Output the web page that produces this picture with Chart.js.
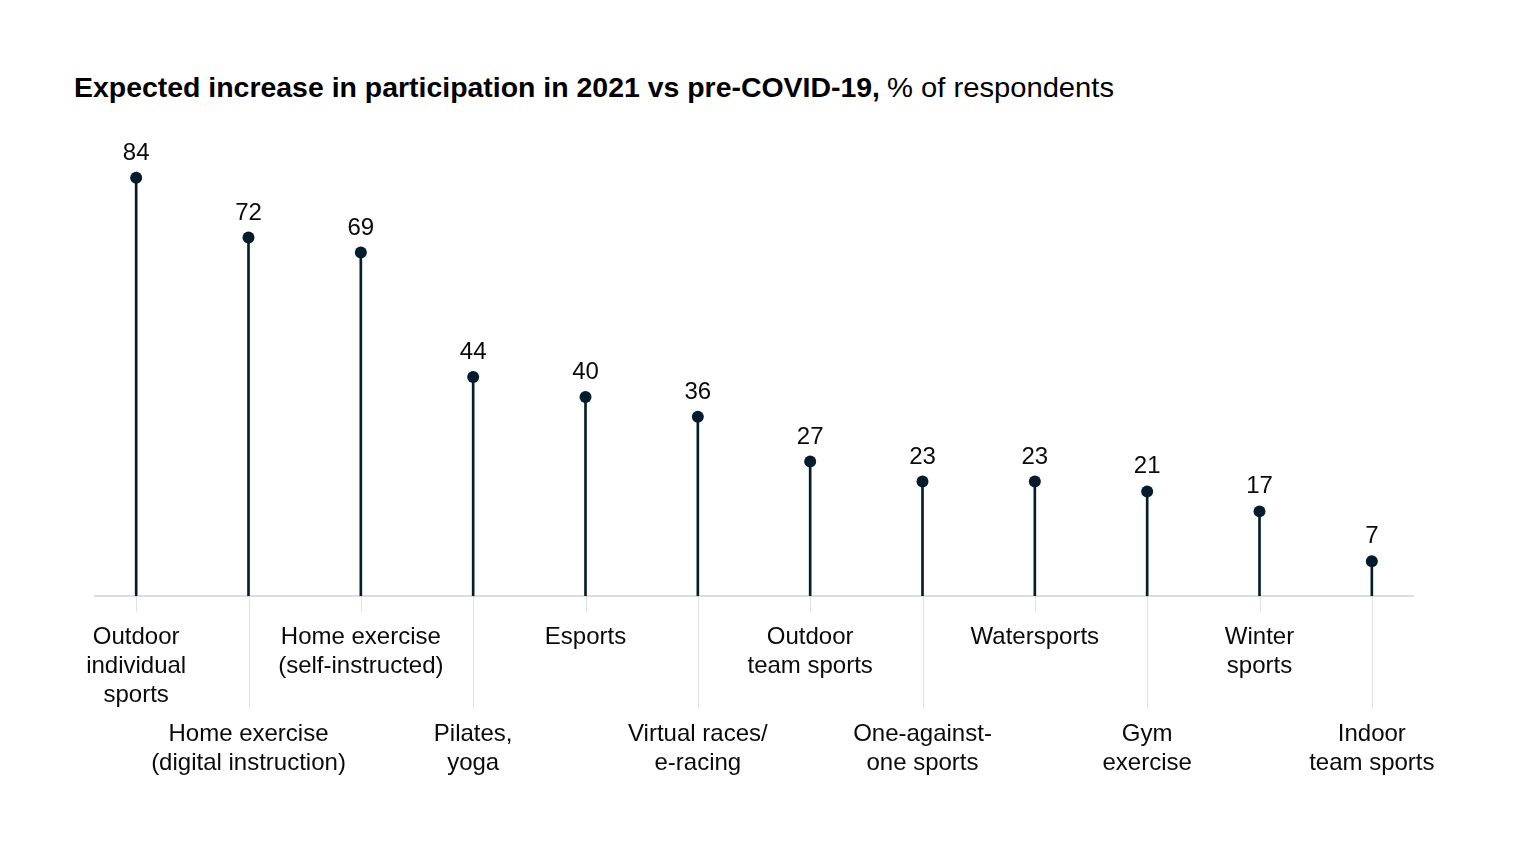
<!DOCTYPE html>
<html><head><meta charset="utf-8">
<script src="https://cdn.jsdelivr.net/npm/chart.js@4/dist/chart.umd.min.js"></script>
<style>
html,body{margin:0;padding:0;background:#fff;}
#wrap{position:relative;width:1536px;height:864px;overflow:hidden}
.t{position:absolute;top:74px;font-family:"Liberation Sans",Arial,sans-serif;font-size:28px;line-height:28px;color:#000;white-space:nowrap;transform-origin:0 0;display:inline-block}
#tb{left:74px;font-weight:700}
#tr{left:887px;font-weight:400}
canvas{position:absolute;left:0;top:0}
</style></head><body>
<div id="wrap">
<span class="t" id="tb">Expected increase in participation in 2021 vs pre-COVID-19,</span><span class="t" id="tr">% of respondents</span>
<canvas id="c" width="1536" height="864"></canvas></div>
<script>
const categories = [
  ["Outdoor","individual","sports"],
  ["Home exercise","(digital instruction)"],
  ["Home exercise","(self-instructed)"],
  ["Pilates,","yoga"],
  ["Esports"],
  ["Virtual races/","e-racing"],
  ["Outdoor","team sports"],
  ["One-against-","one sports"],
  ["Watersports"],
  ["Gym","exercise"],
  ["Winter","sports"],
  ["Indoor","team sports"]
];
const values = [84,72,69,44,40,36,27,23,23,21,17,7];

// fit title spans to the reference widths
function fit(id, w){ const el=document.getElementById(id); const r=el.getBoundingClientRect().width; el.style.transform='scaleX('+(w/r)+')'; }
fit('tb', 806); fit('tr', 227);

const INK = '#051c2c';
const FONT = '"Liberation Sans", Arial, sans-serif';

const deco = {
  id: 'deco',
  beforeDatasetsDraw(chart){
    const ctx = chart.ctx, x = chart.scales.x, y = chart.scales.y;
    const y0 = y.getPixelForValue(0);
    ctx.save();
    ctx.strokeStyle = '#e2e2e2'; ctx.lineWidth = 1;
    categories.forEach((c,i)=>{
      const px = Math.round(x.getPixelForValue(i)) + 0.5;
      ctx.beginPath(); ctx.moveTo(px, y0); ctx.lineTo(px, i%2===0 ? y0+16 : y0+113); ctx.stroke();
    });
    ctx.strokeStyle = '#cfd3d6'; ctx.lineWidth = 1.5;
    ctx.beginPath(); ctx.moveTo(94, y0); ctx.lineTo(1414, y0); ctx.stroke();
    ctx.restore();
  },
  afterDraw(chart){
    const ctx = chart.ctx, x = chart.scales.x, y = chart.scales.y;
    ctx.save();
    ctx.fillStyle = '#0a0a0a';
    ctx.font = '24px ' + FONT;
    ctx.textAlign = 'center'; ctx.textBaseline = 'alphabetic';
    categories.forEach((c,i)=>{
      const px = x.getPixelForValue(i);
      const base = i%2===0 ? 644 : 741;
      c.forEach((line,k)=> ctx.fillText(line, px, base + k*29));
    });
    values.forEach((v,i)=>{
      ctx.fillText(String(v), x.getPixelForValue(i), y.getPixelForValue(v) - 18);
    });
    ctx.restore();
  }
};

new Chart(document.getElementById('c'), {
  type: 'bar',
  data: {
    labels: categories.map(c=>c.join(' ')),
    datasets: [
      { type:'line', data: values, showLine:false, pointRadius:6, pointHoverRadius:6,
        pointBackgroundColor: INK, pointBorderWidth:0 },
      { type:'bar', data: values, barThickness:2, backgroundColor: INK, borderWidth:0 }
    ]
  },
  options: {
    responsive:false, animation:false, devicePixelRatio:1,
    layout:{ padding:{ left:80, right:108, top:148, bottom:268 } },
    plugins:{ legend:{display:false}, tooltip:{enabled:false}, title:{display:false} },
    scales:{
      x:{ display:false, offset:true },
      y:{ display:false, min:0, max:90 }
    }
  },
  plugins:[deco]
});
</script>
</body></html>
